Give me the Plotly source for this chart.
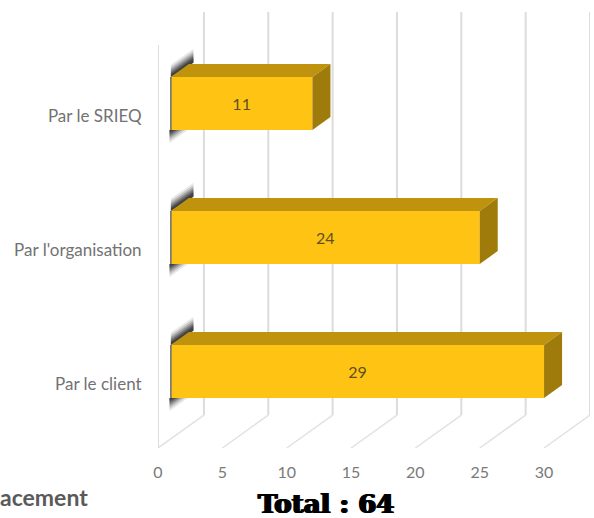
import plotly.graph_objects as go

categories = ["Par le client", "Par l'organisation", "Par le SRIEQ"]
values = [29, 24, 11]
x_ticks = [0, 5, 10, 15, 20, 25, 30]
total_text = "Total : 64"
side_text = "acement"

# pseudo-3D depth, in axis units
WALL_DX, WALL_DY = 3.57, 0.246
BASE = 1.0
BAR_DX, BAR_DY = 1.4, 0.097
BAR_W = 0.396
LABEL_SHIFT = -0.09
Y_MIN, Y_MAX = -0.571, 2.683
X_MAX = 33.57
ys = list(range(len(categories)))
half = BAR_W / 2

shapes = []
grid = dict(color="#dcdcdc", width=2)
for t in x_ticks:
    shapes.append(dict(type="line", layer="below", xref="x", yref="y",
                       x0=t, x1=t + WALL_DX, y0=Y_MIN, y1=Y_MIN + WALL_DY, line=dict(color="#e2e2e2", width=1.5)))
    shapes.append(dict(type="line", layer="below", xref="x", yref="y",
                       x0=t + WALL_DX, x1=t + WALL_DX, y0=Y_MIN + WALL_DY, y1=Y_MAX, line=grid))
shapes.append(dict(type="line", layer="below", xref="x", yref="y",
                   x0=0, x1=0, y0=Y_MIN, y1=Y_MAX - WALL_DY, line=grid))

fig = go.Figure()
fig.add_trace(go.Bar(
    y=ys, x=values, base=[BASE] * len(values), orientation="h", width=BAR_W,
    marker=dict(color="#FFC413", line=dict(width=0)),
    text=[str(v) for v in values], textposition="inside", insidetextanchor="middle",
    textangle=0, textfont=dict(family="Lato", size=16, color="#5f4f20"),
    constraintext="none", hoverinfo="skip"))


def polys(fn):
    xs, yy = [], []
    for v, y in zip(values, ys):
        px, py = fn(v, y)
        xs += px + [None]
        yy += py + [None]
    return xs, yy


def add_poly(fn, color):
    px, py = polys(fn)
    fig.add_trace(go.Scatter(x=px, y=py, mode="lines", fill="toself", fillcolor=color,
                             line=dict(width=0), hoverinfo="skip", showlegend=False))


# soft dark shadow wedges behind the bar's hidden left end: thinner bands stack darker
for alpha, g in [(0.10, 1.1), (0.16, 0.9), (0.22, 0.72), (0.30, 0.55), (0.38, 0.38), (0.45, 0.22)]:
    col = f"rgba(35,35,35,{alpha})"
    add_poly(lambda v, y, g=g: (
        [BASE, BASE + 1.75, BASE + 1.75, BASE],
        [y + half, y + half + BAR_DY + 0.01, y + half + BAR_DY + 0.02 + 0.085 * g, y + half + 0.085 * g]), col)
    add_poly(lambda v, y, g=g: (
        [BASE - 0.1, BASE + 1.2 * g, BASE - 0.1],
        [y - half, y - half, y - half - 0.09 * g]), col)

add_poly(lambda v, y: ([BASE, BASE + BAR_DX, BASE + v + BAR_DX, BASE + v],
                       [y + half, y + half + BAR_DY, y + half + BAR_DY, y + half]), "#BF930D")
add_poly(lambda v, y: ([BASE + v, BASE + v + BAR_DX, BASE + v + BAR_DX, BASE + v],
                       [y + half, y + half + BAR_DY, y - half + BAR_DY, y - half]), "#9F7B0B")

# dark left edge of the bars
ex, ey = polys(lambda v, y: ([BASE, BASE], [y - half, y + half]))
fig.add_trace(go.Scatter(x=ex, y=ey, mode="lines", line=dict(color="#6b6b6b", width=1.5),
                         hoverinfo="skip", showlegend=False))

fig.update_layout(
    width=594, height=518, autosize=False, showlegend=False,
    paper_bgcolor="white", plot_bgcolor="white",
    margin=dict(l=158, r=4, t=12, b=70),
    shapes=shapes,
    xaxis=dict(range=[0, X_MAX], tickvals=x_ticks, showgrid=False, zeroline=False, showline=False,
               ticks="outside", ticklen=10, tickcolor="rgba(0,0,0,0)",
               tickfont=dict(family="Lato", size=16, color="#7a7a7a")),
    yaxis=dict(range=[Y_MIN, Y_MAX], tickvals=[y + LABEL_SHIFT for y in ys], ticktext=categories,
               showgrid=False, zeroline=False, showline=False,
               ticks="outside", ticklen=12, tickcolor="rgba(0,0,0,0)",
               tickfont=dict(family="Lato", size=17, color="#727272")),
    annotations=[
        dict(text=f"<b>{total_text}</b>", xref="paper", yref="paper", x=(326 - 158) / 432, y=-(504 - 448) / 436,
             xanchor="center", yanchor="middle", showarrow=False,
             font=dict(family="DejaVu Serif", size=26, color="#000000",
                       shadow="1px 0 0 #000, -1px 0 0 #000")),
        dict(text=f"<b>{side_text}</b>", xref="paper", yref="paper", x=-(158 - 0) / 432, y=-(497 - 448) / 436,
             xanchor="left", xshift=-2, yanchor="middle", showarrow=False,
             font=dict(family="Lato", size=23, color="#5a5a5a")),
    ],
)
fig.write_html("out.html", post_script="document.body.style.margin='0';",
               config=dict(displayModeBar=False))
